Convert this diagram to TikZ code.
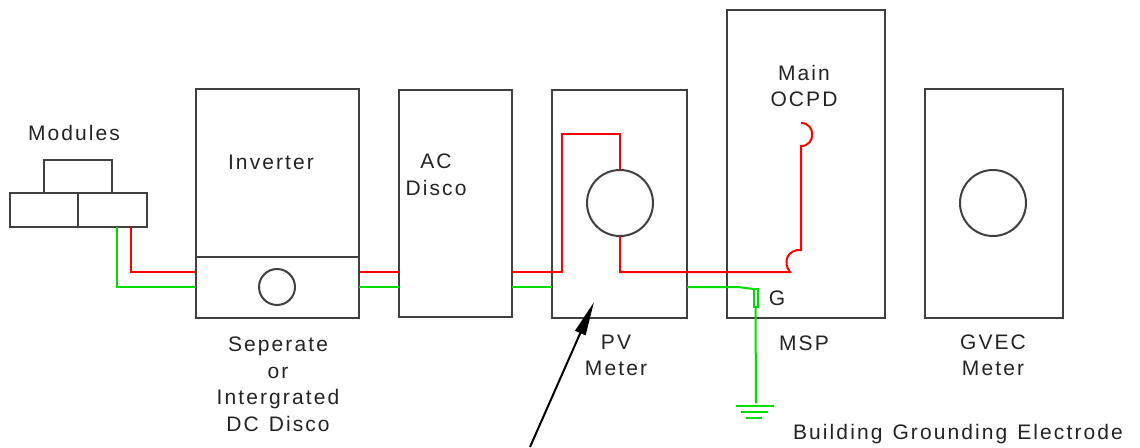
\documentclass[tikz,border=0pt]{standalone}
\usepackage{fontspec}
\setmainfont{Liberation Sans}[LetterSpace=10]
\usetikzlibrary{arrows.meta}
\definecolor{boxgray}{RGB}{64,64,64}
\definecolor{wirered}{RGB}{255,0,0}
\definecolor{wiregreen}{RGB}{0,221,0}
\definecolor{txt}{RGB}{35,35,35}
\begin{document}
\begin{tikzpicture}[x=1pt,y=-1pt,
  box/.style={draw=boxgray,line width=2pt,rectangle,inner sep=0pt,outer sep=0pt},
  dial/.style={draw=boxgray,line width=2pt,circle,inner sep=0pt,outer sep=0pt},
  lbl/.style={font=\fontsize{21}{26.5}\selectfont,text=txt,align=center,inner sep=0pt},
  redw/.style={draw=wirered,line width=2pt},
  grnw/.style={draw=wiregreen,line width=2pt}]
\useasboundingbox (0,0) rectangle (1140,447);
% modules
\node[box,minimum width=68pt,minimum height=33pt] (modT) at (78,176.5) {};
\node[box,minimum width=68pt,minimum height=34pt] (modL) at (44,210) {};
\node[box,minimum width=69pt,minimum height=34pt] (modR) at (112.5,210) {};
\node[lbl] (modlbl) at (74,133) {Modules};
% inverter
\node[box,minimum width=163pt,minimum height=229pt] (inv) at (277.5,203.5) {};
\draw[boxgray,line width=2pt] (inv.west |- 0,257) coordinate (divL) -- (inv.east |- 0,257) coordinate (divR);
\node[dial,minimum size=36pt] (dcd) at (277,287) {};
\node[lbl] (invlbl) at (271,162) {Inverter};
\node[lbl] (dcdlbl) at (278,384.5) {Seperate\\or\\Intergrated\\DC\hspace{10pt}Disco};
% AC disco
\node[box,minimum width=113pt,minimum height=227pt] (acd) at (455.5,203.5) {};
\node[lbl] (acdlbl) at (436,175) {AC\\Disco};
% PV meter
\node[box,minimum width=135pt,minimum height=228pt] (pvm) at (619.5,204) {};
\node[dial,minimum size=66pt] (pvc) at (620,203) {};
\node[lbl] (pvlbl) at (616,355.5) {PV\\Meter};
% MSP
\node[box,minimum width=158pt,minimum height=308pt] (msp) at (806,164) {};
\node[lbl] (ocpd) at (804,86) {Main\\OCPD};
\node[lbl] (msplbl) at (804,343) {MSP};
% GVEC meter
\node[box,minimum width=138pt,minimum height=229pt] (gvec) at (994,203.5) {};
\node[dial,minimum size=66pt] (gvc) at (993,203) {};
\node[lbl] (gveclbl) at (993,355.5) {GVEC\\Meter};
% red conductor
\draw[redw] (modR.south -| 131,0) |- (inv.west |- 0,272);
\draw[redw] (inv.east |- 0,272) -- (acd.west |- 0,272);
\draw[redw] (acd.east |- 0,272) -- (562,272) -- (562,134) -- (620,134) -- (pvc.north);
\draw[redw] (pvc.south) -- (620,272) -- (790,272)
   .. controls (782,262) and (788,249) .. (801,250) -- (801,146)
   .. controls (816,146) and (816,123) .. (801,123);
% green conductor
\draw[grnw] (modR.south -| 117,0) |- (inv.west |- 0,287);
\draw[grnw] (inv.east |- 0,287) -- (acd.west |- 0,287);
\draw[grnw] (acd.east |- 0,287) -- (pvm.west |- 0,287);
\node[draw=wiregreen,line width=2pt,rectangle,inner sep=0pt,outer sep=0pt,minimum width=4pt,minimum height=18pt] (gbar) at (755.5,298) {};
\draw[grnw] (pvm.east |- 0,287) -- (738,287) -- (gbar.north west);
\draw[grnw] (gbar.south) -- (756,403) coordinate (gnd);
\draw[grnw] (736,406) -- (774,406);
\draw[grnw] (741,412) -- (768,412);
\draw[grnw] (746,418) -- (762,418);
\node[lbl] (glbl) at (777,298) {G};
\node[lbl] (bge) at (958,434) {Building\hspace{10pt}Grounding\hspace{10pt}Electrode};
% pointer arrow
\coordinate (arrtail) at (530,447);
\draw[black,line width=2pt,-{Triangle[length=34pt,width=11pt]}] (arrtail) -- (594,302);
\end{tikzpicture}
\end{document}
